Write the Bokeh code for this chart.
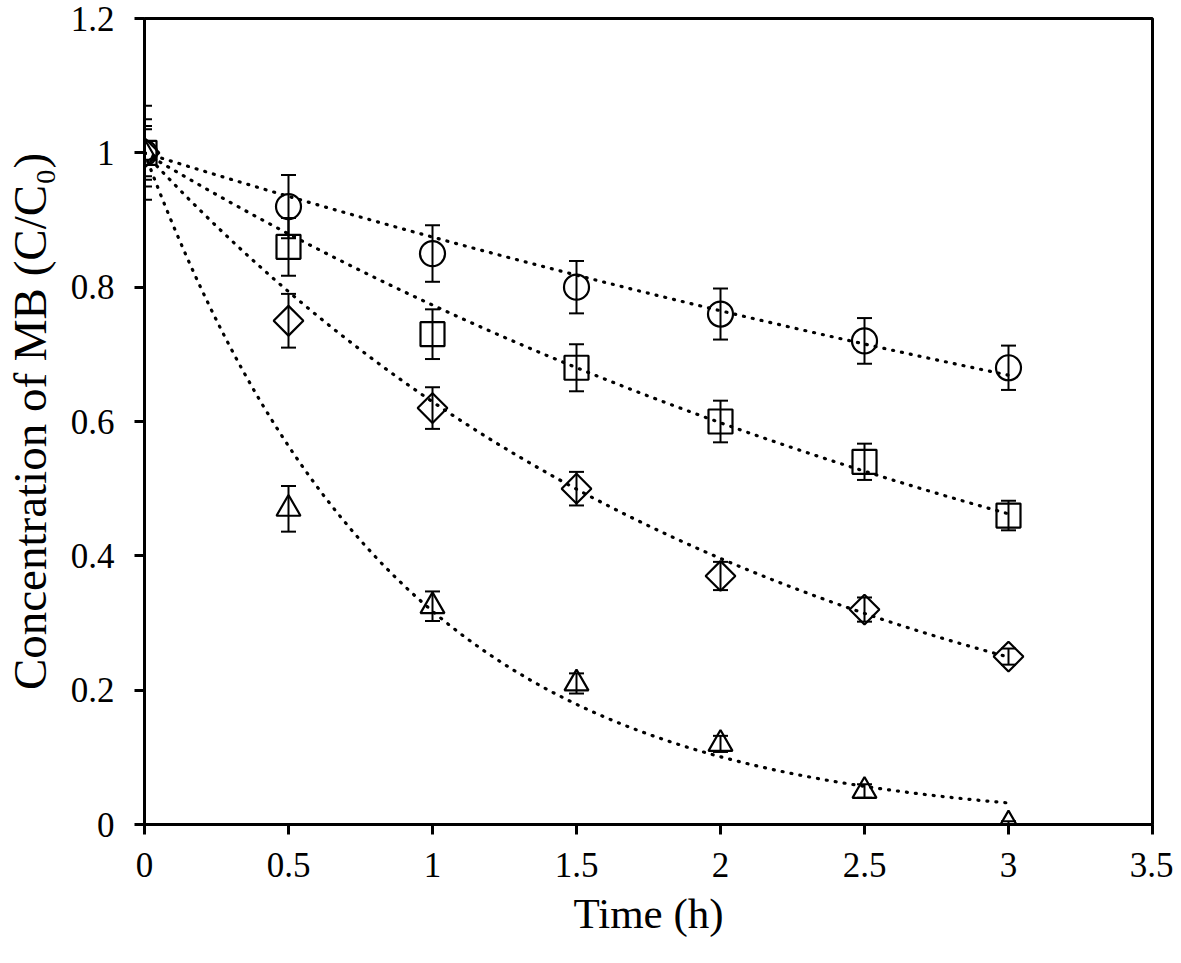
import numpy as np
from bokeh.plotting import figure
from bokeh.models import ColumnDataSource, Whisker, TeeHead, Range1d, FixedTicker
from bokeh.embed import file_html
from bokeh.resources import INLINE

# ---------------- data ----------------
time_h = [0, 0.5, 1, 1.5, 2, 2.5, 3]

circle_vals = [1.00, 0.92, 0.85, 0.80, 0.76, 0.72, 0.68]
circle_err = [0.070, 0.047, 0.042, 0.039, 0.038, 0.034, 0.033]

square_vals = [1.00, 0.86, 0.73, 0.68, 0.60, 0.54, 0.46]
square_err = [0.050, 0.043, 0.037, 0.035, 0.031, 0.027, 0.022]

diamond_vals = [1.00, 0.75, 0.62, 0.50, 0.37, 0.32, 0.25]
diamond_err = [0.040, 0.040, 0.031, 0.025, 0.021, 0.018, 0.012]

triangle_vals = [1.00, 0.47, 0.325, 0.21, 0.12, 0.05, 0.00]
triangle_err = [0.035, 0.034, 0.022, 0.015, 0.012, 0.010, 0.005]

# pseudo-first-order rate constants of the dotted fit curves (1/h)
fit_k = [0.134, 0.257, 0.463, 1.147]
fit_t_end = 3.0

x_ticks = [0, 0.5, 1, 1.5, 2, 2.5, 3, 3.5]
x_tick_labels = ["0", "0.5", "1", "1.5", "2", "2.5", "3", "3.5"]
y_ticks = [0, 0.2, 0.4, 0.6, 0.8, 1.0, 1.2]
y_tick_labels = ["0", "0.2", "0.4", "0.6", "0.8", "1", "1.2"]

x_label = "Time (h)"
y_label = "Concentration of MB (C/C\u2080)"

# ---------------- figure ----------------
FONT = "Liberation Serif"
p = figure(
    frame_width=1008, frame_height=806,
    x_range=Range1d(0, 3.5), y_range=Range1d(0, 1.2),
    output_backend="svg", toolbar_location=None,
    min_border_left=136, min_border_top=18,
    min_border_right=21, min_border_bottom=123,
    background_fill_color="white", border_fill_color="white",
)
p.xgrid.visible = False
p.ygrid.visible = False
p.outline_line_color = "black"
p.outline_line_width = 3
p.outline_line_alpha = 1.0

for ax, ticks, labels, lab in ((p.xaxis[0], x_ticks, x_tick_labels, x_label),
                               (p.yaxis[0], y_ticks, y_tick_labels, y_label)):
    ax.ticker = FixedTicker(ticks=ticks)
    ax.major_label_overrides = {t: l for t, l in zip(ticks, labels)}
    ax.axis_line_width = 3
    ax.axis_line_color = "black"
    ax.major_tick_line_width = 3
    ax.major_tick_line_color = "black"
    ax.major_tick_out = 10
    ax.major_tick_in = 0
    ax.minor_tick_line_color = None
    ax.major_label_text_font = FONT
    ax.major_label_text_font_size = "35px"
    ax.major_label_text_color = "black"
    ax.axis_label = lab
    ax.axis_label_text_font = FONT
    ax.axis_label_text_font_style = "normal"
    ax.axis_label_text_color = "black"

p.xaxis.major_label_standoff = 18
p.yaxis.major_label_standoff = 20
p.xaxis.axis_label_text_font_size = "43px"
p.yaxis.axis_label_text_font_size = "47px"
p.xaxis.axis_label_standoff = 10
p.yaxis.axis_label_standoff = 12

# ---------------- fit curves ----------------
t_fit = np.linspace(0, fit_t_end, 300)
for k in fit_k:
    p.line(t_fit, np.exp(-k * t_fit), line_color="black", line_width=3.2,
           line_dash="1 8", line_cap="round")

# ---------------- points + error bars ----------------
series = [
    (circle_vals, circle_err, "circle", 25, 0.0),
    (square_vals, square_err, "square", 24, 0.0),
    (diamond_vals, diamond_err, "square", 21, np.pi / 4),
    (triangle_vals, triangle_err, "triangle", 24, 0.0),
]
for vals, err, marker, size, ang in series:
    src = ColumnDataSource(dict(
        x=time_h, y=vals,
        upper=[v + e for v, e in zip(vals, err)],
        lower=[v - e for v, e in zip(vals, err)],
    ))
    w = Whisker(base="x", upper="upper", lower="lower", source=src,
                dimension="height", line_color="black", line_width=2,
                upper_head=TeeHead(size=15, line_width=2, line_color="black"),
                lower_head=TeeHead(size=15, line_width=2, line_color="black"))
    p.add_layout(w)
    p.scatter("x", "y", source=src, marker=marker, size=size, angle=ang,
              fill_alpha=0, line_color="black", line_width=2.2)

open("out.html", "w").write(file_html(p, INLINE))
